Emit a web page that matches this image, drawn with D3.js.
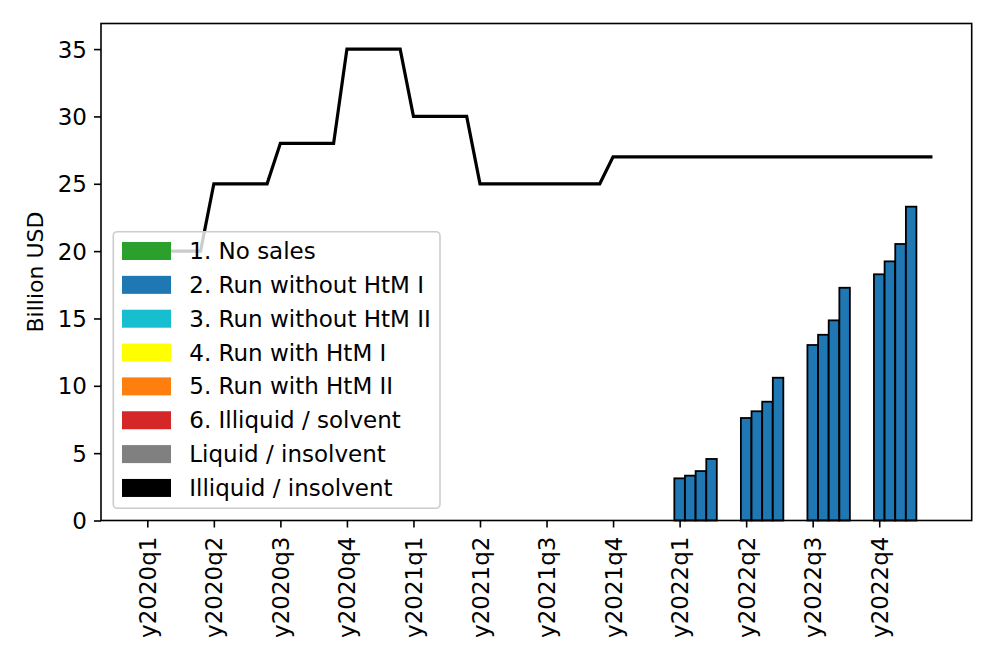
<!DOCTYPE html>
<html>
<head>
<meta charset="utf-8">
<script src="https://cdn.jsdelivr.net/npm/d3@7"></script>
<style>
  body { margin: 0; background: #fff; }
  svg text { font-family: "DejaVu Sans", sans-serif; fill: #000; }
</style>
</head>
<body>
<svg id="chart" width="997" height="664"></svg>
<script>
// Quarter labels along the x axis.
var quarters = ["y2020q1", "y2020q2", "y2020q3", "y2020q4",
                "y2021q1", "y2021q2", "y2021q3", "y2021q4",
                "y2022q1", "y2022q2", "y2022q3", "y2022q4"];

// Bars: four sub-periods per quarter, billion USD ("2. Run without HtM I").
var runWithoutHtmI = [
    [0, 0, 0, 0], [0, 0, 0, 0], [0, 0, 0, 0], [0, 0, 0, 0],
    [0, 0, 0, 0], [0, 0, 0, 0], [0, 0, 0, 0], [0, 0, 0, 0],
    [3.13, 3.33, 3.67, 4.57],
    [7.61, 8.11, 8.82, 10.6],
    [13.03, 13.79, 14.86, 17.28],
    [18.28, 19.24, 20.53, 23.3]
];
var barOffsets = [0, 0.16, 0.32, 0.48];

// Black line: limit per quarter, held over five sub-points.
var limitByQuarter = [20, 25, 28, 35, 30, 25, 25, 27, 27, 27, 27, 27];
var lineOffsets = [0, 0.2, 0.4, 0.6, 0.8];

var legendNames = ["1. No sales", "2. Run without HtM I", "3. Run without HtM II",
                   "4. Run with HtM I", "5. Run with HtM II", "6. Illiquid / solvent",
                   "Liquid / insolvent", "Illiquid / insolvent"];
var legendColors = ["#2ca02c", "#1f77b4", "#17becf", "#ffff00",
                    "#ff7f0e", "#d62728", "#808080", "#000000"];

var yTicks = [0, 5, 10, 15, 20, 25, 30, 35];

var svg = d3.select("#chart");
var plot = { left: 101, right: 971.7, top: 23.5, bottom: 520.5 };

var x = d3.scaleLinear().domain([-0.696, 12.39]).range([plot.left, plot.right]);
var y = d3.scaleLinear().domain([0, 36.9]).range([plot.bottom, plot.top]);
var barWidth = x(0.158) - x(0);

// Bars, flattened from the quarter table:
var bars = [];
runWithoutHtmI.forEach(function (vals, qi) {
    vals.forEach(function (v, j) {
        bars.push({ pos: qi + barOffsets[j], value: v });
    });
});

svg.append("g")
  .selectAll("rect")
  .data(bars)
  .enter().append("rect")
    .attr("x", function (d) { return x(d.pos) - barWidth / 2; })
    .attr("y", function (d) { return y(d.value); })
    .attr("width", barWidth)
    .attr("height", function (d) { return y(0) - y(d.value); })
    .attr("fill", "#1f77b4")
    .attr("stroke", "#000")
    .attr("stroke-width", 1.8);

// Line points:
var linePts = [];
limitByQuarter.forEach(function (v, qi) {
    lineOffsets.forEach(function (o) { linePts.push([qi + o, v]); });
});

svg.append("path")
    .attr("d", d3.line()
        .x(function (d) { return x(d[0]); })
        .y(function (d) { return y(d[1]); })(linePts))
    .attr("fill", "none")
    .attr("stroke", "#000")
    .attr("stroke-width", 3.2)
    .attr("stroke-linejoin", "miter");

// Axes
var yAxis = svg.append("g")
    .attr("transform", "translate(" + plot.left + ",0)")
    .call(d3.axisLeft(y).tickValues(yTicks).tickSize(7).tickPadding(7).tickSizeOuter(0));
var xAxis = svg.append("g")
    .attr("transform", "translate(0," + plot.bottom + ")")
    .call(d3.axisBottom(x).tickValues(d3.range(quarters.length))
        .tickFormat(function (i) { return quarters[i]; })
        .tickSize(7).tickSizeOuter(0));

[yAxis, xAxis].forEach(function (ax) {
    ax.select(".domain").remove();
    ax.selectAll("line").attr("stroke", "#000").attr("stroke-width", 1.6);
    ax.selectAll("text").style("font-size", "23px").attr("fill", "#000");
});
yAxis.selectAll("text").attr("dy", "0.35em");
xAxis.selectAll("text")
    .attr("text-anchor", "end")
    .attr("y", 0)
    .attr("dy", "0.35em")
    .attr("transform", "translate(0,16) rotate(-90)");

// Frame
svg.append("rect")
    .attr("x", plot.left).attr("y", plot.top)
    .attr("width", plot.right - plot.left)
    .attr("height", plot.bottom - plot.top)
    .attr("fill", "none").attr("stroke", "#000").attr("stroke-width", 1.6);

// Y label
svg.append("text")
    .attr("transform", "translate(35," + ((plot.top + plot.bottom) / 2) + ") rotate(-90)")
    .attr("text-anchor", "middle")
    .attr("dy", "0.35em")
    .style("font-size", "22px")
    .text("Billion USD");

// Legend
var legend = svg.append("g");
legend.append("rect")
    .attr("x", 113.3).attr("y", 231.7)
    .attr("width", 326.7).attr("height", 276.6)
    .attr("rx", 4).attr("ry", 4)
    .attr("fill", "#fff").attr("fill-opacity", 0.8)
    .attr("stroke", "#cccccc").attr("stroke-width", 1.6);

var rows = legend.selectAll("g.row")
    .data(legendNames)
    .enter().append("g")
    .attr("transform", function (d, i) { return "translate(0," + (251 + i * 33.85) + ")"; });

rows.append("rect")
    .attr("x", 122).attr("y", -9)
    .attr("width", 49).attr("height", 18)
    .attr("fill", function (d, i) { return legendColors[i]; });

rows.append("text")
    .attr("x", 189.3)
    .attr("dy", "0.35em")
    .style("font-size", "23px")
    .text(function (d) { return d; });
</script>
</body>
</html>
